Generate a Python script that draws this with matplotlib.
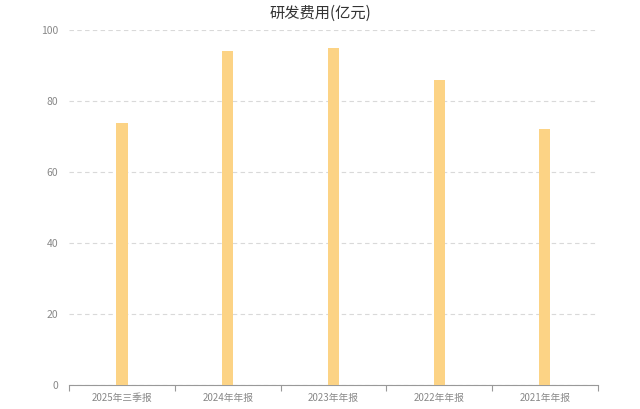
import numpy as np
import matplotlib.pyplot as plt

plt.rcParams['font.family'] = ['Noto Sans CJK SC', 'DejaVu Sans']

# data
periods = ['2025年三季报', '2024年年报', '2023年年报', '2022年年报', '2021年年报']
rd_cost = [73.7, 94.1, 94.8, 85.9, 72.1]

fig = plt.figure(figsize=(6.4, 4.09), dpi=100)
ax = fig.add_axes([0.108, 0.059, 0.826, 0.868])

x = np.arange(len(periods))
ax.bar(x, rd_cost, width=0.105, color='#fcd385', zorder=3)

ax.set_xlim(-0.5, len(periods) - 0.5)
ax.set_ylim(0, 100)
ax.set_yticks([0, 20, 40, 60, 80, 100])
ax.yaxis.grid(True, linestyle=(0, (4, 3)), color='#d9d9d9', linewidth=0.8, zorder=0)

# category labels centred, tick marks on the boundaries
ax.set_xticks(x)
ax.set_xticklabels(periods)
ax.set_xticks(np.arange(-0.5, len(periods)), minor=True)
ax.tick_params(axis='x', which='major', length=0, labelsize=7, labelcolor='#888888', pad=6)
ax.tick_params(axis='x', which='minor', length=4, color='#999999', width=0.8)
ax.tick_params(axis='y', length=0, labelsize=7.5, labelcolor='#888888', pad=8)

for side in ['top', 'right', 'left']:
    ax.spines[side].set_visible(False)
ax.spines['bottom'].set_color('#999999')
ax.spines['bottom'].set_linewidth(0.8)

fig.text(0.5, 0.968, '研发费用(亿元)', ha='center', va='center', fontsize=11, color='#333333')

fig.savefig('out.png', dpi=100)
